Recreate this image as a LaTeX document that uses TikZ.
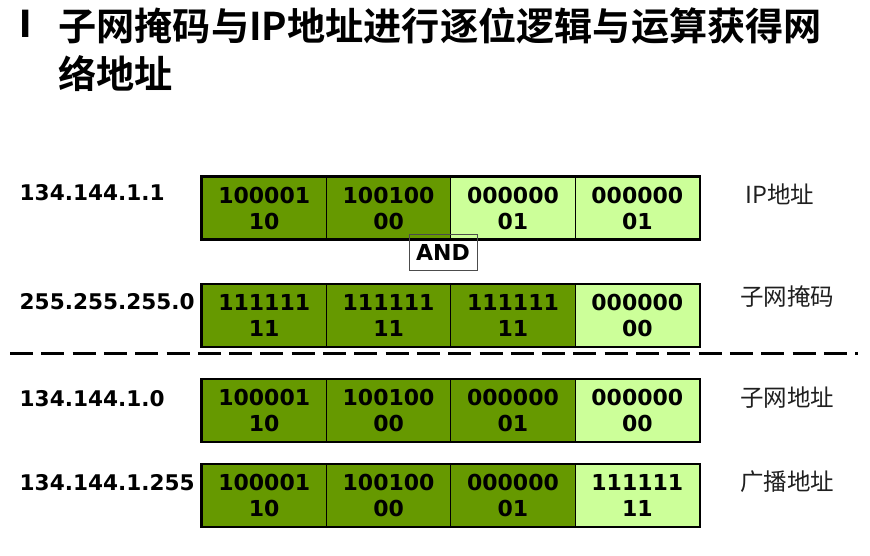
\documentclass[tikz,border=0pt]{standalone}
\usepackage{fontspec}
\setmainfont{DejaVu Sans}
\newfontfamily\cjk[BoldFont={Noto Sans CJK SC Bold}]{Noto Sans CJK SC}
\definecolor{netgreen}{HTML}{669900}
\definecolor{hostgreen}{HTML}{CCFF99}
\newcommand\bitfont{\bfseries\fontsize{22}{26}\selectfont}
\newcommand\addrfont{\bfseries\fontsize{21.6}{26}\selectfont}
\newcommand\tagfont{\cjk\fontsize{23.5}{28}\selectfont\color{black!88}}
\tikzset{
  cell/.style={draw=black, line width=0.8pt, minimum width=124.375pt,
    minimum height=62pt, inner sep=0pt, align=center, font=\bitfont},
  netcell/.style={cell, fill=netgreen},
  hostcell/.style={cell, fill=hostgreen},
  rowframe/.style={draw=black, line width=2.6pt},
  addr/.style={anchor=west, inner sep=0pt, font=\addrfont},
  tag/.style={anchor=west, inner sep=0pt, font=\tagfont},
  headline/.style={anchor=west, inner sep=0pt,
    font=\cjk\bfseries\fontsize{38.2}{46}\selectfont},
  opbox/.style={draw=black!70, line width=0.8pt, minimum width=68pt,
    minimum height=36pt, inner sep=0pt, font=\bitfont},
  divider/.style={line width=3pt, dash pattern=on 23pt off 8.3pt}
}
\begin{document}
\begin{tikzpicture}[x=1pt,y=-1pt]
\useasboundingbox (0,0) rectangle (870,555);

% heading
\node[anchor=west, inner sep=0pt, font=\bfseries\fontsize{36}{36}\selectfont] (bullet) at (19.5,23.5) {l};
\node[headline] (title1) at (58,26) {子网掩码与IP地址进行逐位逻辑与运算获得网};
\node[headline] (title2) at (58,74) {络地址};

% IP address
\node[netcell]  (r1c1) at (264.19,208) {100001\\10};
\node[netcell]  (r1c2) at (388.56,208) {100100\\00};
\node[hostcell] (r1c3) at (512.94,208) {000000\\01};
\node[hostcell] (r1c4) at (637.31,208) {000000\\01};
\draw[rowframe] (r1c1.north west) rectangle (r1c4.south east);

% subnet mask
\node[netcell]  (r2c1) at (264.19,315.5) {111111\\11};
\node[netcell]  (r2c2) at (388.56,315.5) {111111\\11};
\node[netcell]  (r2c3) at (512.94,315.5) {111111\\11};
\node[hostcell] (r2c4) at (637.31,315.5) {000000\\00};
\draw[rowframe] (r2c1.north west) rectangle (r2c4.south east);

% subnet address
\node[netcell]  (r3c1) at (264.19,410.5) {100001\\10};
\node[netcell]  (r3c2) at (388.56,410.5) {100100\\00};
\node[netcell]  (r3c3) at (512.94,410.5) {000000\\01};
\node[hostcell] (r3c4) at (637.31,410.5) {000000\\00};
\draw[rowframe] (r3c1.north west) rectangle (r3c4.south east);

% broadcast address
\node[netcell]  (r4c1) at (264.19,495.5) {100001\\10};
\node[netcell]  (r4c2) at (388.56,495.5) {100100\\00};
\node[netcell]  (r4c3) at (512.94,495.5) {000000\\01};
\node[hostcell] (r4c4) at (637.31,495.5) {111111\\11};
\draw[rowframe] (r4c1.north west) rectangle (r4c4.south east);

% operator
\node[opbox] (andop) at (443,252) {AND};

% dotted-decimal values
\node[addr] (a1) at (19.5,193) {134.144.1.1};
\node[addr] (a2) at (19.5,302) {255.255.255.0};
\node[addr] (a3) at (19.5,399) {134.144.1.0};
\node[addr] (a4) at (19.5,483) {134.144.1.255};

% row captions
\node[tag] (t1) at (745.5,194) {IP地址};
\node[tag] (t2) at (740,297) {子网掩码};
\node[tag] (t3) at (740,397.5) {子网地址};
\node[tag] (t4) at (740,482) {广播地址};

% separator between operands and results
\coordinate (sepL) at (10,353);
\coordinate (sepR) at (858,353);
\draw[divider] (sepL) -- (sepR);
\end{tikzpicture}
\end{document}
